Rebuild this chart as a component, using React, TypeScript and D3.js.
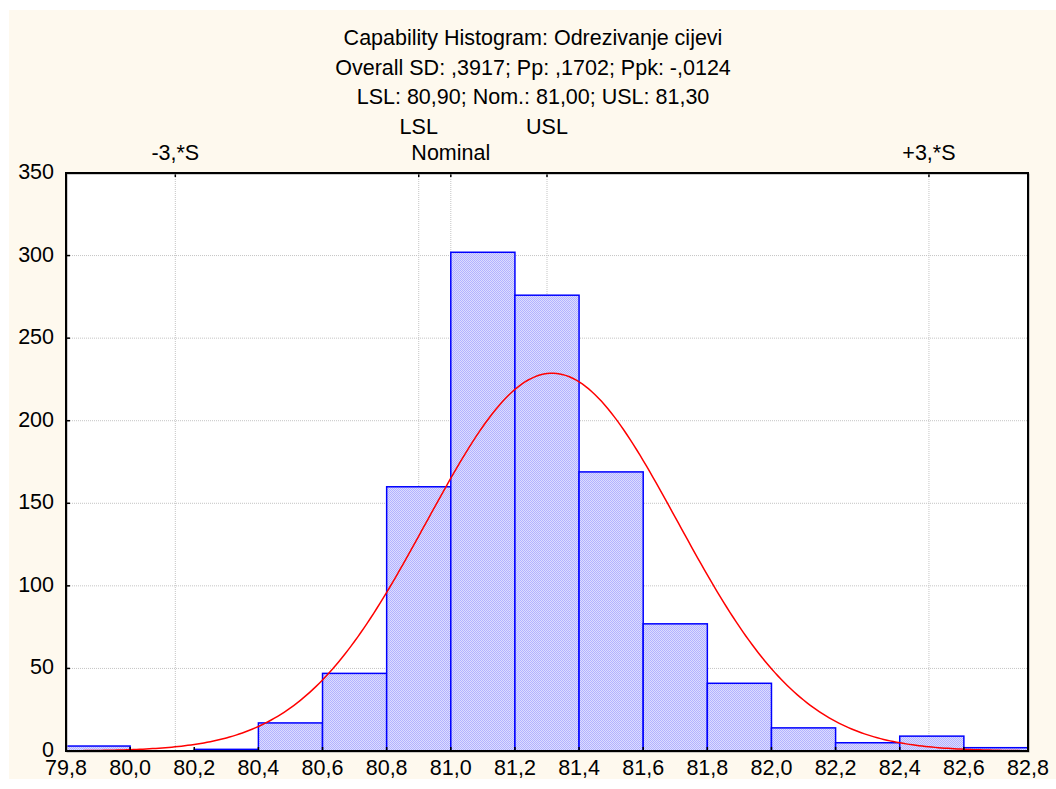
import * as d3 from "d3";

const WIDTH = 1056;
const HEIGHT = 789;
const PLOT = { left: 66, right: 1028, top: 173, bottom: 751 };

// histogram bins (lower edges, width 0.2) and counts
const binStarts = [79.8, 80.0, 80.2, 80.4, 80.6, 80.8, 81.0, 81.2, 81.4, 81.6, 81.8, 82.0, 82.2, 82.4, 82.6];
const counts = [3, 0, 1, 17, 47, 160, 302, 276, 169, 77, 41, 14, 5, 9, 2];
const BIN_WIDTH = 0.2;

const xTicks = [79.8, 80.0, 80.2, 80.4, 80.6, 80.8, 81.0, 81.2, 81.4, 81.6, 81.8, 82.0, 82.2, 82.4, 82.6, 82.8];
const yTicks = [0, 50, 100, 150, 200, 250, 300, 350];

const titleLines = [
  "Capability Histogram: Odrezivanje cijevi",
  "Overall SD: ,3917; Pp: ,1702; Ppk: -,0124",
  "LSL: 80,90; Nom.: 81,00; USL: 81,30",
];

// fitted normal
const MEAN = 81.316;
const SD = 0.3917;

// spec / reference lines
const refLines = [
  { label: "-3,*S", value: MEAN - 3 * SD, row: 1 },
  { label: "LSL", value: 80.9, row: 0 },
  { label: "Nominal", value: 81.0, row: 1 },
  { label: "USL", value: 81.3, row: 0 },
  { label: "+3,*S", value: MEAN + 3 * SD, row: 1 },
];

const FONT = "'Liberation Sans', Arial, sans-serif";
const FS = 21.5;
const fmt = (v: number) => d3.format(".1f")(v).replace(".", ",");

export default function App() {
  const xScale = d3.scaleLinear().domain([79.8, 82.8]).range([PLOT.left, PLOT.right]);
  const yScale = d3.scaleLinear().domain([0, 350]).range([PLOT.bottom, PLOT.top]);

  const total = d3.sum(counts);
  const density = (x: number) =>
    ((total * BIN_WIDTH) / (SD * Math.sqrt(2 * Math.PI))) * Math.exp(-0.5 * ((x - MEAN) / SD) ** 2);
  const curveXs = d3.range(79.8, 82.8001, 0.01);
  const curvePath = d3
    .line<number>()
    .x((d) => xScale(d))
    .y((d) => yScale(density(d)))(curveXs);

  return (
    <svg
      width={WIDTH}
      height={HEIGHT}
      style={{ position: "absolute", left: 0, top: 0 }}
      fontFamily={FONT}
    >
      <defs>
        <pattern id="dots" width={2} height={2} patternUnits="userSpaceOnUse">
          <rect width={2} height={2} fill="#dcdcff" />
          <rect width={1} height={1} fill="#b2b2ff" />
          <rect x={1} y={1} width={1} height={1} fill="#b2b2ff" />
        </pattern>
      </defs>
      <rect x={0} y={0} width={WIDTH} height={HEIGHT} fill="#ffffff" />
      <rect x={9} y={10} width={WIDTH - 9} height={769} fill="#fef9ee" />

      {/* titles */}
      {titleLines.map((t, i) => (
        <text key={t} x={533} y={45 + i * 29.5} fontSize={FS} textAnchor="middle" fill="#000">
          {t}
        </text>
      ))}

      {/* plot background */}
      <rect
        x={PLOT.left}
        y={PLOT.top}
        width={PLOT.right - PLOT.left}
        height={PLOT.bottom - PLOT.top}
        fill="#ffffff"
      />

      {/* horizontal grid */}
      {yTicks
        .filter((v) => v > 0 && v < 350)
        .map((v) => (
          <line
            key={"gy" + v}
            x1={PLOT.left}
            x2={PLOT.right}
            y1={yScale(v)}
            y2={yScale(v)}
            stroke="#c4c4c4"
            strokeDasharray="1,1"
          />
        ))}

      {/* reference vertical lines */}
      {refLines.map((r) => (
        <g key={r.label}>
          <line
            x1={xScale(r.value)}
            x2={xScale(r.value)}
            y1={PLOT.top}
            y2={PLOT.bottom}
            stroke="#c4c4c4"
            strokeDasharray="1,1"
          />
          <line
            x1={xScale(r.value)}
            x2={xScale(r.value)}
            y1={PLOT.top}
            y2={PLOT.top + 4}
            stroke="#000"
            strokeWidth={1.5}
          />
          <text
            x={xScale(r.value)}
            y={r.row === 0 ? 134 : 160}
            fontSize={FS}
            textAnchor="middle"
            fill="#000"
          >
            {r.label}
          </text>
        </g>
      ))}

      {/* bars */}
      {binStarts.map((b, i) => (
        <rect
          key={"bar" + b}
          x={xScale(b)}
          y={yScale(counts[i])}
          width={xScale(b + BIN_WIDTH) - xScale(b)}
          height={yScale(0) - yScale(counts[i])}
          fill="url(#dots)"
          stroke="#0000ff"
          strokeWidth={1.5}
        />
      ))}

      {/* normal curve */}
      <path d={curvePath ?? ""} fill="none" stroke="#ff0000" strokeWidth={1.5} />

      {/* frame */}
      <rect
        x={PLOT.left + 1}
        y={PLOT.top + 1}
        width={PLOT.right - PLOT.left}
        height={PLOT.bottom - PLOT.top}
        fill="none"
        stroke="#9a9a9a"
        strokeWidth={1}
      />
      <rect
        x={PLOT.left}
        y={PLOT.top}
        width={PLOT.right - PLOT.left}
        height={PLOT.bottom - PLOT.top}
        fill="none"
        stroke="#000"
        strokeWidth={2}
      />

      {/* y axis */}
      {yTicks.map((v) => (
        <g key={"yt" + v}>
          <line x1={PLOT.left} x2={PLOT.left + 4} y1={yScale(v)} y2={yScale(v)} stroke="#000" strokeWidth={1.5} />
          <text x={54} y={yScale(v) + 6} fontSize={FS} textAnchor="end" fill="#000">
            {v}
          </text>
        </g>
      ))}

      {/* x axis */}
      {xTicks.map((v) => (
        <g key={"xt" + v}>
          <line
            x1={xScale(v)}
            x2={xScale(v)}
            y1={PLOT.bottom}
            y2={PLOT.bottom - 4}
            stroke="#000"
            strokeWidth={1.5}
          />
          <text x={xScale(v)} y={775} fontSize={FS} textAnchor="middle" fill="#000">
            {fmt(v)}
          </text>
        </g>
      ))}
    </svg>
  );
}
